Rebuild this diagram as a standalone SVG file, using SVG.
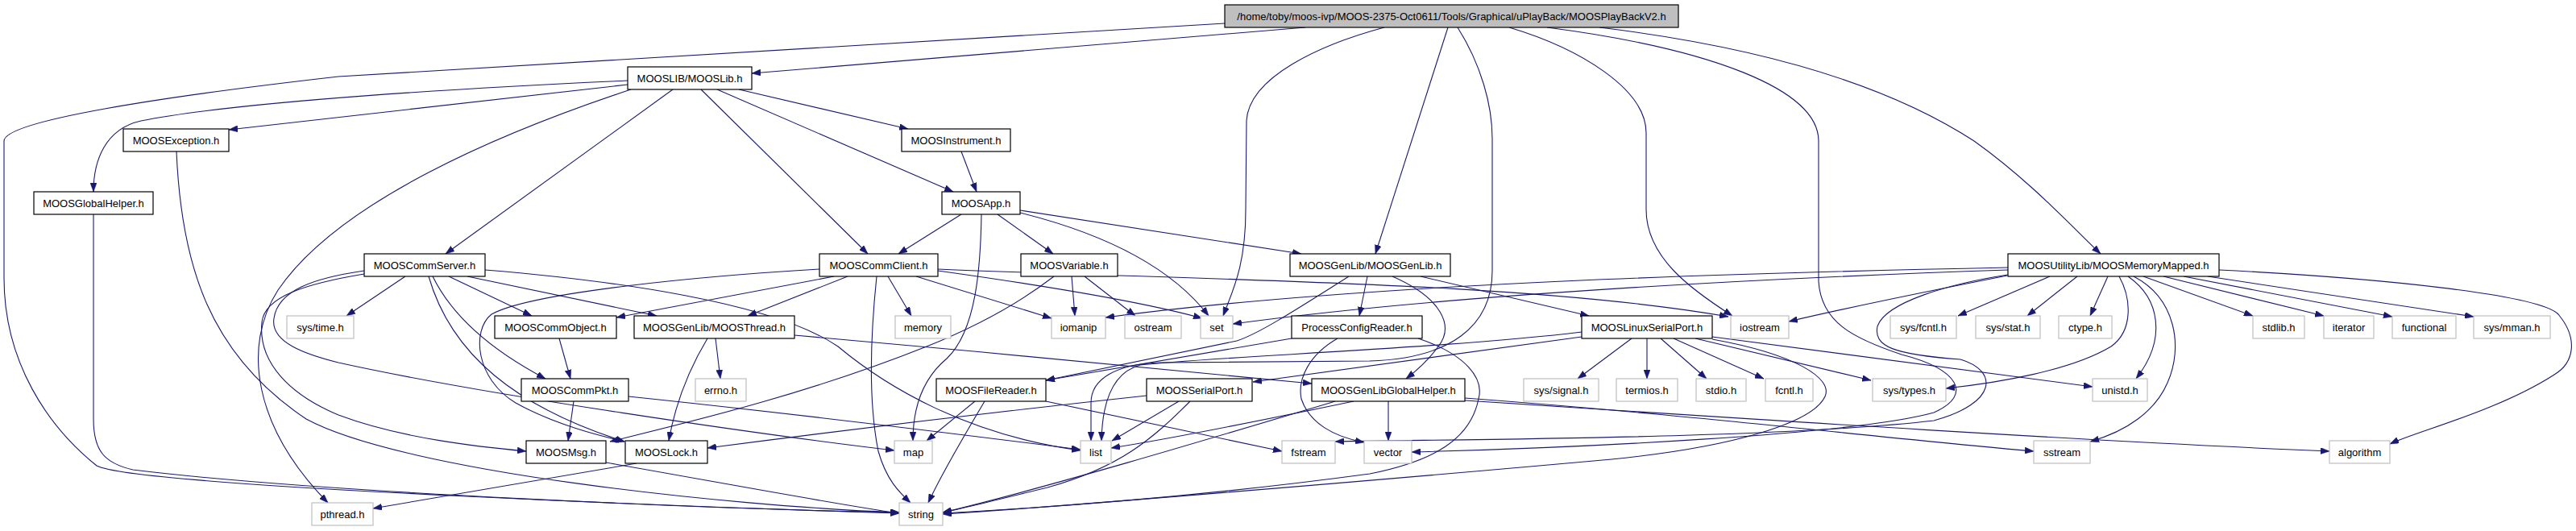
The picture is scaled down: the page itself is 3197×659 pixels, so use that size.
<svg xmlns="http://www.w3.org/2000/svg" width="3197" height="659" viewBox="0 0 3197 659">
<style>
.nd rect{fill:#fff;stroke:#000;stroke-width:1.2}
.ex rect{fill:#fff;stroke:#bfbfbf;stroke-width:1.2}
.rt rect{fill:#bfbfbf;stroke:#000;stroke-width:1.2}
text{font-family:"Liberation Sans",Arial,sans-serif;font-size:13px;text-anchor:middle;fill:#000}
#edges path{fill:none;stroke:#191970;stroke-width:1.1;marker-end:url(#a)}
</style>
<defs>
<marker id="a" markerWidth="11" markerHeight="8" refX="11" refY="4" orient="auto" markerUnits="userSpaceOnUse"><path d="M0,0 L11,4 L0,8 z" fill="#191970" stroke="#191970" stroke-width="0.5"/></marker>
</defs>
<rect width="3197" height="659" fill="#fff"/>
<g id="edges">
<path d="M1620,34 L933,91"/>
<path d="M1520,29 L420,95 C200,120 5,150 5,175 L5,345 C5,450 60,530 120,578 C170,605 950,632 1116,637"/>
<path d="M1718,34 C1640,55 1550,95 1547,150 L1546,260 C1546,330 1530,360 1518,392"/>
<path d="M1797,34 L1707,315"/>
<path d="M1809,34 C1838,80 1852,130 1852,172 L1852,336 C1852,405 1800,445 1700,448 L1440,450 C1385,452 1354,470 1354,500 L1354,547"/>
<path d="M1873,34 C1960,60 2043,110 2043,165 L2043,260 C2043,320 2100,360 2150,392"/>
<path d="M1920,34 C2120,60 2257,110 2257,175 L2257,349 C2260,400 2300,420 2360,440 C2430,458 2450,490 2400,512 C2300,540 1950,556 1752,561"/>
<path d="M1985,34 C2200,60 2350,110 2450,175 C2520,225 2570,280 2607,315"/>
<path d="M779,100 C600,108 300,125 175,150 C130,160 116,200 116,238"/>
<path d="M779,105 L284,161"/>
<path d="M783,111 C620,165 420,250 345,360 C300,430 315,530 407,624"/>
<path d="M835,111 L553,315"/>
<path d="M870,111 L1077,315"/>
<path d="M890,111 L1183,238"/>
<path d="M917,111 L1127,160"/>
<path d="M1193,188 L1212,238"/>
<path d="M1193,266 L1115,315"/>
<path d="M1218,266 C1217,330 1212,410 1175,445 C1145,470 1133,505 1133,547"/>
<path d="M1238,266 L1307,315"/>
<path d="M1266,264 C1390,295 1460,340 1500,392"/>
<path d="M1266,261 L1615,315"/>
<path d="M503,343 L430,392"/>
<path d="M557,343 L660,392"/>
<path d="M580,343 L815,392"/>
<path d="M537,343 C565,400 620,440 677,470"/>
<path d="M532,343 C560,440 640,505 775,548"/>
<path d="M452,340 C380,352 328,368 325,400 C320,450 360,490 420,515 C500,545 600,555 653,560"/>
<path d="M452,336 C390,345 345,360 340,395 C335,425 380,440 420,450 C600,490 950,540 1110,559"/>
<path d="M602,335 C760,348 960,375 1040,430 C1100,480 1200,540 1341,559"/>
<path d="M1035,343 L765,394"/>
<path d="M1052,343 L928,392"/>
<path d="M1102,343 L1131,392"/>
<path d="M1088,343 C1080,420 1078,500 1090,560 C1100,595 1115,610 1130,624"/>
<path d="M1017,334 C880,342 660,362 610,390 C585,410 590,470 640,500 C690,528 750,542 775,548"/>
<path d="M1164,336 C1300,355 1420,375 1492,395"/>
<path d="M1137,343 L1305,395"/>
<path d="M1164,334 C1500,348 1900,350 2145,393"/>
<path d="M1330,343 L1334,392"/>
<path d="M1346,343 L1409,392"/>
<path d="M1308,343 C1260,380 1200,410 1150,430 C1000,490 850,525 757,548"/>
<path d="M1697,343 L1687,392"/>
<path d="M1728,343 C1790,370 1805,405 1785,430 C1772,448 1758,460 1745,470"/>
<path d="M1763,343 L1972,392"/>
<path d="M1674,343 C1600,390 1560,415 1535,423 L1298,472"/>
<path d="M694,420 L708,470"/>
<path d="M712,498 L705,547"/>
<path d="M780,492 C1000,515 1200,540 1341,558"/>
<path d="M888,420 L894,470"/>
<path d="M878,420 C860,450 840,490 830,547"/>
<path d="M986,416 C1200,435 1450,458 1628,476"/>
<path d="M790,575 L463,631"/>
<path d="M752,574 C900,600 1050,628 1116,637"/>
<path d="M219,188 C225,330 260,440 380,520 C500,585 900,628 1116,636"/>
<path d="M116,266 L116,520 C116,560 130,575 165,583 C400,612 900,632 1116,636"/>
<path d="M1603,420 L1298,472"/>
<path d="M1660,420 C1625,440 1610,470 1615,495 C1625,525 1655,542 1693,549"/>
<path d="M1760,420 C1820,440 1842,470 1835,495 C1825,545 1780,572 1700,588 C1500,615 1300,630 1170,637"/>
<path d="M1210,498 L1150,547"/>
<path d="M1222,498 C1200,535 1170,585 1152,624"/>
<path d="M1298,498 L1591,560"/>
<path d="M1423,491 C1200,515 1000,540 878,556"/>
<path d="M1463,498 L1380,547"/>
<path d="M1477,498 C1430,545 1390,580 1300,605 C1230,622 1190,632 1170,636"/>
<path d="M1723,498 L1723,547"/>
<path d="M1680,498 C1550,525 1450,545 1379,556"/>
<path d="M1657,498 C1500,545 1300,605 1170,636"/>
<path d="M1818,494 C2100,515 2300,540 2524,560"/>
<path d="M1818,497 C2200,522 2600,548 2891,560"/>
<path d="M1963,418 L1555,474"/>
<path d="M1963,412 C1800,432 1500,443 1415,453 C1382,462 1368,495 1367,547"/>
<path d="M2025,420 L1958,470"/>
<path d="M2044,420 L2044,470"/>
<path d="M2061,420 L2118,470"/>
<path d="M2077,420 L2189,470"/>
<path d="M2104,420 L2322,472"/>
<path d="M2125,418 C2300,440 2450,462 2597,480"/>
<path d="M2125,421 C2230,440 2275,470 2265,492 C2250,525 2150,555 2000,570 C1700,597 1300,630 1170,638"/>
<path d="M2492,335 C2200,345 1800,365 1530,402"/>
<path d="M2492,332 C2200,338 1700,350 1372,394"/>
<path d="M2491,342 C2400,360 2300,380 2220,399"/>
<path d="M2544,343 L2430,392"/>
<path d="M2578,343 L2516,392"/>
<path d="M2616,343 L2594,392"/>
<path d="M2630,343 C2645,370 2648,410 2620,430 C2570,460 2480,475 2415,482"/>
<path d="M2641,343 C2680,370 2690,420 2651,470"/>
<path d="M2648,343 C2700,370 2710,430 2690,475 C2675,510 2640,535 2594,548"/>
<path d="M2660,343 L2796,392"/>
<path d="M2685,343 L2884,392"/>
<path d="M2710,343 L2969,393"/>
<path d="M2740,343 L3070,393"/>
<path d="M2754,335 C2950,345 3150,365 3175,390 C3200,420 3195,450 3170,465 C3100,510 3000,535 2966,551"/>
<path d="M2492,341 C2420,352 2340,375 2330,405 C2325,430 2350,440 2433,446 C2480,460 2480,500 2400,522 C2200,545 1800,545 1657,548"/>
</g>
<g id="n_root" class="rt"><rect x="1520" y="6" width="563" height="28"/><text x="1801.5" y="24.5">/home/toby/moos-ivp/MOOS-2375-Oct0611/Tools/Graphical/uPlayBack/MOOSPlayBackV2.h</text></g>
<g id="n_MOOSLib" class="nd"><rect x="779" y="83" width="154" height="28"/><text x="856" y="101.5">MOOSLIB/MOOSLib.h</text></g>
<g id="n_MOOSException" class="nd"><rect x="153" y="160" width="131" height="28"/><text x="218.5" y="178.5">MOOSException.h</text></g>
<g id="n_MOOSInstrument" class="nd"><rect x="1119" y="160" width="135" height="28"/><text x="1186.5" y="178.5">MOOSInstrument.h</text></g>
<g id="n_MOOSGlobalHelper" class="nd"><rect x="42" y="238" width="148" height="28"/><text x="116" y="256.5">MOOSGlobalHelper.h</text></g>
<g id="n_MOOSApp" class="nd"><rect x="1169" y="238" width="97" height="28"/><text x="1217.5" y="256.5">MOOSApp.h</text></g>
<g id="n_MOOSCommServer" class="nd"><rect x="452" y="315" width="150" height="28"/><text x="527" y="333.5">MOOSCommServer.h</text></g>
<g id="n_MOOSCommClient" class="nd"><rect x="1017" y="315" width="147" height="28"/><text x="1090.5" y="333.5">MOOSCommClient.h</text></g>
<g id="n_MOOSVariable" class="nd"><rect x="1267" y="315" width="120" height="28"/><text x="1327" y="333.5">MOOSVariable.h</text></g>
<g id="n_MOOSGenLib" class="nd"><rect x="1601" y="315" width="199" height="28"/><text x="1700.5" y="333.5">MOOSGenLib/MOOSGenLib.h</text></g>
<g id="n_MOOSMemoryMapped" class="nd"><rect x="2492" y="315" width="262" height="28"/><text x="2623" y="333.5">MOOSUtilityLib/MOOSMemoryMapped.h</text></g>
<g id="n_systime" class="ex"><rect x="356" y="392" width="83" height="28"/><text x="397.5" y="410.5">sys/time.h</text></g>
<g id="n_MOOSCommObject" class="nd"><rect x="614" y="392" width="151" height="28"/><text x="689.5" y="410.5">MOOSCommObject.h</text></g>
<g id="n_MOOSThread" class="nd"><rect x="787" y="392" width="199" height="28"/><text x="886.5" y="410.5">MOOSGenLib/MOOSThread.h</text></g>
<g id="n_memory" class="ex"><rect x="1111" y="392" width="69" height="28"/><text x="1145.5" y="410.5">memory</text></g>
<g id="n_iomanip" class="ex"><rect x="1305" y="392" width="67" height="28"/><text x="1338.5" y="410.5">iomanip</text></g>
<g id="n_ostream" class="ex"><rect x="1396" y="392" width="70" height="28"/><text x="1431" y="410.5">ostream</text></g>
<g id="n_set" class="ex"><rect x="1490" y="392" width="40" height="28"/><text x="1510" y="410.5">set</text></g>
<g id="n_ProcessConfigReader" class="nd"><rect x="1603" y="392" width="162" height="28"/><text x="1684" y="410.5">ProcessConfigReader.h</text></g>
<g id="n_MOOSLinuxSerialPort" class="nd"><rect x="1963" y="392" width="162" height="28"/><text x="2044" y="410.5">MOOSLinuxSerialPort.h</text></g>
<g id="n_iostream" class="ex"><rect x="2148" y="392" width="72" height="28"/><text x="2184" y="410.5">iostream</text></g>
<g id="n_sysfcntl" class="ex"><rect x="2346" y="392" width="82" height="28"/><text x="2387" y="410.5">sys/fcntl.h</text></g>
<g id="n_sysstat" class="ex"><rect x="2452" y="392" width="80" height="28"/><text x="2492" y="410.5">sys/stat.h</text></g>
<g id="n_ctype" class="ex"><rect x="2555" y="392" width="66" height="28"/><text x="2588" y="410.5">ctype.h</text></g>
<g id="n_stdlib" class="ex"><rect x="2796" y="392" width="64" height="28"/><text x="2828" y="410.5">stdlib.h</text></g>
<g id="n_iterator" class="ex"><rect x="2884" y="392" width="62" height="28"/><text x="2915" y="410.5">iterator</text></g>
<g id="n_functional" class="ex"><rect x="2969" y="392" width="79" height="28"/><text x="3008.5" y="410.5">functional</text></g>
<g id="n_sysmman" class="ex"><rect x="3070" y="392" width="95" height="28"/><text x="3117.5" y="410.5">sys/mman.h</text></g>
<g id="n_MOOSCommPkt" class="nd"><rect x="647" y="470" width="133" height="28"/><text x="713.5" y="488.5">MOOSCommPkt.h</text></g>
<g id="n_errno" class="ex"><rect x="863" y="470" width="63" height="28"/><text x="894.5" y="488.5">errno.h</text></g>
<g id="n_MOOSFileReader" class="nd"><rect x="1162" y="470" width="136" height="28"/><text x="1230" y="488.5">MOOSFileReader.h</text></g>
<g id="n_MOOSSerialPort" class="nd"><rect x="1423" y="470" width="131" height="28"/><text x="1488.5" y="488.5">MOOSSerialPort.h</text></g>
<g id="n_MOOSGenLibGlobalHelper" class="nd"><rect x="1628" y="470" width="190" height="28"/><text x="1723" y="488.5">MOOSGenLibGlobalHelper.h</text></g>
<g id="n_syssignal" class="ex"><rect x="1891" y="470" width="93" height="28"/><text x="1937.5" y="488.5">sys/signal.h</text></g>
<g id="n_termios" class="ex"><rect x="2006" y="470" width="76" height="28"/><text x="2044" y="488.5">termios.h</text></g>
<g id="n_stdio" class="ex"><rect x="2105" y="470" width="62" height="28"/><text x="2136" y="488.5">stdio.h</text></g>
<g id="n_fcntl" class="ex"><rect x="2191" y="470" width="59" height="28"/><text x="2220.5" y="488.5">fcntl.h</text></g>
<g id="n_systypes" class="ex"><rect x="2324" y="470" width="91" height="28"/><text x="2369.5" y="488.5">sys/types.h</text></g>
<g id="n_unistd" class="ex"><rect x="2597" y="470" width="68" height="28"/><text x="2631" y="488.5">unistd.h</text></g>
<g id="n_MOOSMsg" class="nd"><rect x="653" y="547" width="99" height="28"/><text x="702.5" y="565.5">MOOSMsg.h</text></g>
<g id="n_MOOSLock" class="nd"><rect x="776" y="547" width="102" height="28"/><text x="827" y="565.5">MOOSLock.h</text></g>
<g id="n_map" class="ex"><rect x="1110" y="547" width="47" height="28"/><text x="1133.5" y="565.5">map</text></g>
<g id="n_list" class="ex"><rect x="1341" y="547" width="38" height="28"/><text x="1360" y="565.5">list</text></g>
<g id="n_fstream" class="ex"><rect x="1591" y="547" width="66" height="28"/><text x="1624" y="565.5">fstream</text></g>
<g id="n_vector" class="ex"><rect x="1693" y="547" width="59" height="28"/><text x="1722.5" y="565.5">vector</text></g>
<g id="n_sstream" class="ex"><rect x="2524" y="547" width="70" height="28"/><text x="2559" y="565.5">sstream</text></g>
<g id="n_algorithm" class="ex"><rect x="2891" y="547" width="75" height="28"/><text x="2928.5" y="565.5">algorithm</text></g>
<g id="n_pthread" class="ex"><rect x="387" y="624" width="76" height="28"/><text x="425" y="642.5">pthread.h</text></g>
<g id="n_string" class="ex"><rect x="1116" y="624" width="54" height="28"/><text x="1143" y="642.5">string</text></g>
</svg>
